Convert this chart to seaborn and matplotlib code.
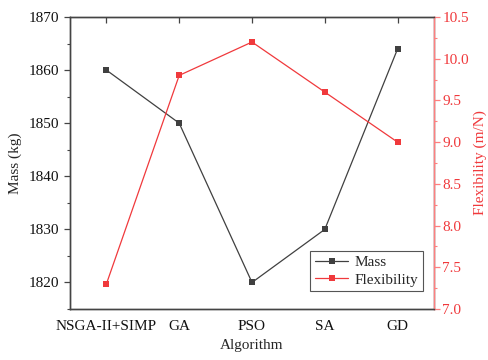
import matplotlib
matplotlib.use("Agg")
import matplotlib.pyplot as plt
from matplotlib.ticker import MultipleLocator, AutoMinorLocator, FormatStrFormatter
from matplotlib.lines import Line2D
import seaborn as sns
import pandas as pd

algorithms = ["NSGA-II+SIMP", "GA", "PSO", "SA", "GD"]
mass = [1860, 1850, 1820, 1830, 1864]
flexibility = [7.3, 9.8, 10.2, 9.6, 9.0]

mass_color = "#404040"
flex_color = "#f0393c"
flex_axis_color = "#ff7f7f"

sns.set_theme(style="white")
plt.rcParams["font.family"] = ["Liberation Serif", "DejaVu Serif"]

df = pd.DataFrame({"Algorithm": algorithms, "pos": range(len(algorithms)),
                   "Mass": mass, "Flexibility": flexibility})

fig = plt.figure(figsize=(4.89, 3.6), dpi=100)
ax = fig.add_axes([70 / 489, 1 - 309 / 360, (434 - 70) / 489, (309 - 17) / 360])
ax2 = ax.twinx()

sns.lineplot(data=df, x="pos", y="Mass", ax=ax, color=mass_color, marker="s",
             markersize=5, markeredgewidth=0, linewidth=0.9, legend=False)
sns.lineplot(data=df, x="pos", y="Flexibility", ax=ax2, color=flex_color, marker="s",
             markersize=5, markeredgewidth=0, linewidth=0.9, legend=False)

ax.set_xlim(-0.5, 4.5)
ax.set_ylim(1815, 1870)
ax2.set_ylim(7.0, 10.5)

ax.set_xticks(range(len(algorithms)))
ax.set_xticklabels(algorithms)
ax.yaxis.set_major_locator(MultipleLocator(10))
ax.yaxis.set_minor_locator(AutoMinorLocator(2))
ax2.yaxis.set_major_locator(MultipleLocator(0.5))
ax2.yaxis.set_minor_locator(AutoMinorLocator(2))
ax2.yaxis.set_major_formatter(FormatStrFormatter("%.1f"))

fs = 11
ax.set_xlabel("Algorithm", fontsize=fs, labelpad=4)
ax.set_ylabel("Mass (kg)", fontsize=fs, labelpad=5)
ax2.set_ylabel("Flexibility (m/N)", fontsize=fs, color=flex_color, labelpad=3)

for a in (ax, ax2):
    for s in a.spines.values():
        s.set_color("#444444")
        s.set_linewidth(1.0)
ax2.spines["right"].set_color(flex_axis_color)

ax.tick_params(axis="x", which="major", direction="out", length=4, width=0.9,
               color="#444444", labelsize=fs, labelcolor="#111111", pad=4)
ax.tick_params(axis="y", which="major", direction="out", length=4, width=0.9,
               color="#444444", labelsize=fs, labelcolor="#111111", left=True)
ax.tick_params(axis="y", which="minor", direction="out", length=2.5, width=0.8,
               color="#444444", left=True)
ax2.tick_params(axis="y", which="major", direction="out", length=4, width=0.9,
                color=flex_axis_color, labelsize=fs, labelcolor=flex_color, right=True, pad=2)
ax2.tick_params(axis="y", which="minor", direction="out", length=2.5, width=0.8,
                color=flex_axis_color, right=True)

# category ticks mirrored on the top spine, pointing inward
top = ax.secondary_xaxis("top")
top.set_xticks(range(len(algorithms)))
top.set_xticklabels([])
top.tick_params(direction="in", length=4, width=0.9, color="#444444")
top.spines["top"].set_visible(False)

handles = [
    Line2D([], [], color=mass_color, marker="s", markersize=5, markeredgewidth=0, linewidth=0.9),
    Line2D([], [], color=flex_color, marker="s", markersize=5, markeredgewidth=0, linewidth=0.9),
]
leg = ax.legend(handles, ["Mass", "Flexibility"], loc="lower right",
                bbox_to_anchor=(0.99, 0.035), fontsize=fs, frameon=True,
                fancybox=False, edgecolor="#555555", framealpha=1,
                handlelength=2.2, handletextpad=0.4, borderpad=0.3, labelspacing=0.25)
leg.get_frame().set_linewidth(0.8)

fig.savefig("out.png", dpi=100)
